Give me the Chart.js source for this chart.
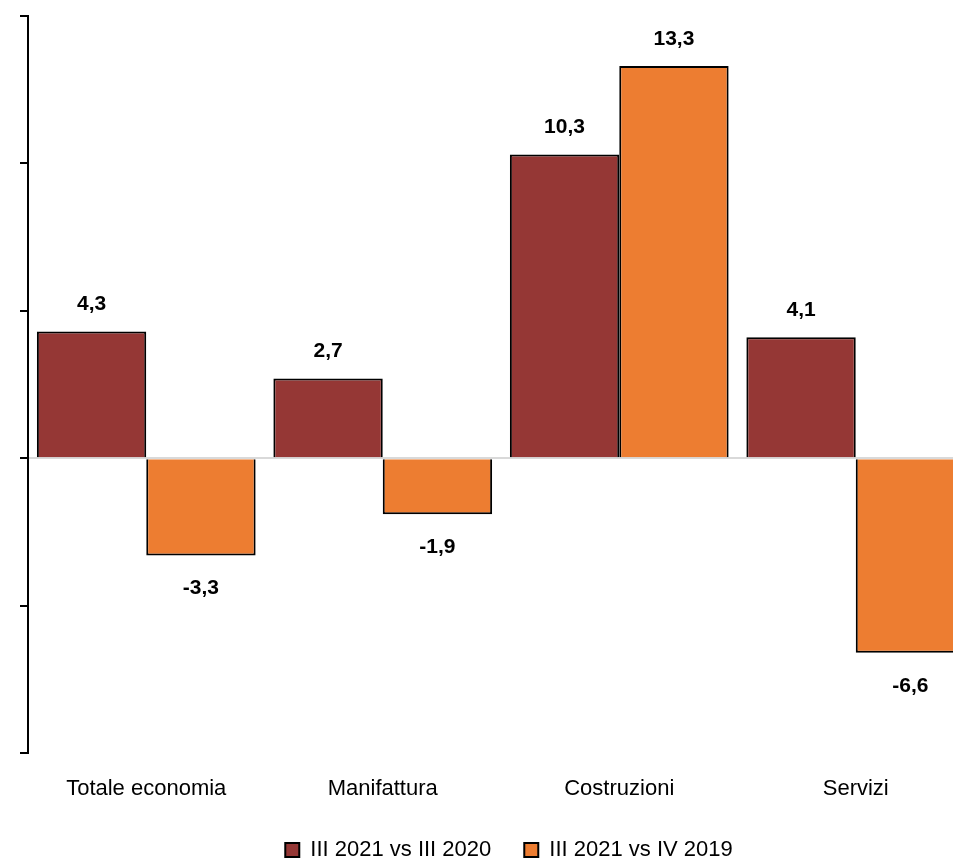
<!DOCTYPE html>
<html>
<head>
<meta charset="utf-8">
<script src="https://cdn.jsdelivr.net/npm/chart.js@4/dist/chart.umd.min.js"></script>
<style>
  html, body { margin:0; padding:0; background:#fff; overflow:hidden; }
  #wrap { position:relative; width:1018px; height:871px; }
</style>
</head>
<body>
<div id="wrap"><canvas id="chart"></canvas></div>
<script>
// dati
const categories = ['Totale economia', 'Manifattura', 'Costruzioni', 'Servizi'];
const seriesNames = ['III 2021 vs III 2020', 'III 2021 vs IV 2019'];
const vsIII2020 = [4.3, 2.7, 10.3, 4.1];
const vsIV2019 = [-3.3, -1.9, 13.3, -6.6];
const yTicks = [-10, -5, 0, 5, 10, 15];

const FONT = "'Liberation Sans Narrow', 'Arial Narrow', 'Liberation Sans', sans-serif";
const fmt = v => v.toFixed(1).replace('.', ',');

// etichette sopra/sotto le barre
const valueLabels = {
  id: 'valueLabels',
  afterDatasetsDraw(chart) {
    const ctx = chart.ctx;
    ctx.save();
    ctx.font = 'bold 21px ' + FONT;
    ctx.fillStyle = '#000';
    ctx.textAlign = 'center';
    ctx.textBaseline = 'middle';
    chart.data.datasets.forEach((ds, i) => {
      chart.getDatasetMeta(i).data.forEach((bar, j) => {
        const v = ds.data[j];
        const y = v >= 0 ? bar.y - 27 : bar.y + 33;
        ctx.fillText(fmt(v), bar.x, y);
      });
    });
    ctx.restore();
  }
};

new Chart(document.getElementById('chart'), {
  type: 'bar',
  data: {
    labels: categories,
    datasets: [
      { label: seriesNames[0], data: vsIII2020, backgroundColor: '#953735', borderColor: '#000', borderWidth: 2 },
      { label: seriesNames[1], data: vsIV2019, backgroundColor: '#ED7D31', borderColor: '#000', borderWidth: 2 }
    ]
  },
  options: {
    animation: false, responsive: true, maintainAspectRatio: false,
    categoryPercentage: 0.925, barPercentage: 1,
    layout: { padding: { top: 16, left: 0, right: 0, bottom: 0 } },
    plugins: {
      tooltip: { enabled: false },
      legend: {
        position: 'bottom',
        labels: {
          font: { family: FONT, size: 22 }, color: '#000',
          boxWidth: 14, boxHeight: 14, padding: 33,
          generateLabels(chart) {
            return chart.data.datasets.map((d, i) => ({
              text: d.label, fillStyle: d.backgroundColor, strokeStyle: '#000',
              lineWidth: 2, datasetIndex: i, fontColor: '#000'
            }));
          }
        }
      }
    },
    scales: {
      x: {
        grid: { display: false }, border: { display: false },
        ticks: { font: { family: FONT, size: 22 }, color: '#000', padding: 15 },
        afterFit(s) { s.height = 53; }
      },
      y: {
        min: -10, max: 15, z: 1,
        afterBuildTicks(s) { s.ticks = yTicks.map(v => ({ value: v })); },
        ticks: { display: false },
        grid: {
          color: c => c.tick && c.tick.value === 0 ? '#d9d9d9' : 'transparent',
          lineWidth: 2, tickColor: '#000', tickWidth: 2, tickLength: 8
        },
        border: { display: true, color: '#000', width: 2 },
        afterFit(s) { s.width = 28; }
      },
      y2: {
        position: 'right', display: true,
        grid: { display: false }, border: { display: false },
        ticks: { display: false },
        afterFit(s) { s.width = 44; }
      }
    }
  },
  plugins: [valueLabels]
});
</script>
</body>
</html>
